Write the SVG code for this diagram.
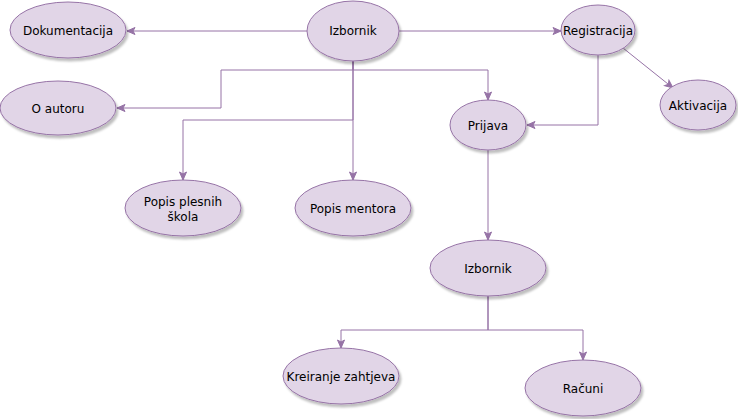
<svg xmlns="http://www.w3.org/2000/svg" width="738" height="419" viewBox="0 0 738 419">
<style>
.n ellipse{fill:#e1d5e7;stroke:#9673a6;stroke-width:1;filter:url(#sh)}
.n text{font-family:"DejaVu Sans","Liberation Sans",sans-serif;font-size:12px;fill:#000;text-anchor:middle}
#edges path{fill:none;stroke:#9673a6;stroke-width:1;marker-end:url(#arr)}
</style>
<defs>
<filter id="sh" x="-20%" y="-20%" width="150%" height="150%">
<feDropShadow dx="2" dy="3" stdDeviation="1" flood-color="#000" flood-opacity="0.25"/>
</filter>
<marker id="arr" markerWidth="10" markerHeight="10" refX="9" refY="5" orient="auto" markerUnits="userSpaceOnUse">
<path d="M1,1.5 L9,5 L1,8.5 L3,5 Z" fill="#9673a6" stroke="#9673a6" stroke-width="1"/>
</marker>
</defs>
<rect width="738" height="419" fill="#fff"/>
<g id="edges">
<path d="M307,31 L127,31"/>
<path d="M399,31 L561,31"/>
<path d="M353,61 L353,180"/>
<path d="M353,61 L353,120 L183,120 L183,180"/>
<path d="M353,61 L353,70 L221,70 L221,108 L117,108"/>
<path d="M353,61 L353,70 L488,70 L488,100"/>
<path d="M598,55 L598,125 L527,125"/>
<path d="M623,48 L673,88"/>
<path d="M488,150 L488,240"/>
<path d="M488,296 L488,330 L341,330 L341,348"/>
<path d="M488,296 L488,330 L583,330 L583,360"/>
</g>
<g id="izbornik" class="n"><ellipse cx="353" cy="31" rx="46" ry="30"/><text x="353" y="35">Izbornik</text></g>
<g id="dokumentacija" class="n"><ellipse cx="68" cy="30" rx="58" ry="28"/><text x="68" y="35">Dokumentacija</text></g>
<g id="oautoru" class="n"><ellipse cx="58" cy="108" rx="58" ry="27"/><text x="58" y="113">O autoru</text></g>
<g id="registracija" class="n"><ellipse cx="598" cy="30" rx="37" ry="25"/><text x="598" y="35">Registracija</text></g>
<g id="aktivacija" class="n"><ellipse cx="698" cy="105" rx="38" ry="25"/><text x="698" y="110">Aktivacija</text></g>
<g id="prijava" class="n"><ellipse cx="488" cy="125" rx="38" ry="25"/><text x="488" y="130">Prijava</text></g>
<g id="popisskola" class="n"><ellipse cx="183" cy="208" rx="58" ry="28"/><text x="183" y="206">Popis plesnih</text><text x="183" y="221">škola</text></g>
<g id="popismentora" class="n"><ellipse cx="353" cy="208" rx="58" ry="28"/><text x="353" y="213">Popis mentora</text></g>
<g id="izbornik2" class="n"><ellipse cx="488" cy="268" rx="58" ry="28"/><text x="488" y="273">Izbornik</text></g>
<g id="kreiranje" class="n"><ellipse cx="341" cy="376" rx="58" ry="28"/><text x="341" y="381">Kreiranje zahtjeva</text></g>
<g id="racuni" class="n"><ellipse cx="583" cy="388" rx="58" ry="28"/><text x="583" y="393">Računi</text></g>
</svg>
